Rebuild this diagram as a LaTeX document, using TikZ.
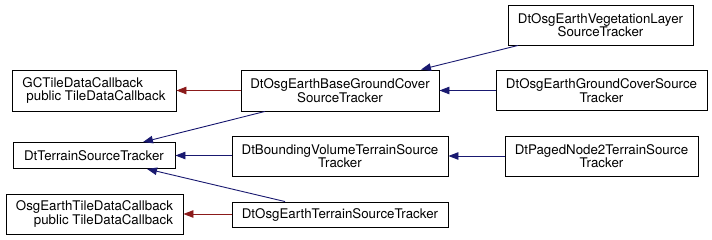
\documentclass[tikz,border=0pt]{standalone}
\usepackage{fontspec}
\setmainfont{TeX Gyre Heros}
\usetikzlibrary{arrows.meta}
\definecolor{edgeblue}{HTML}{191970}
\definecolor{edgered}{HTML}{8B1A1A}
\begin{document}
\begin{tikzpicture}[x=1pt,y=-1pt,
  cls/.style={draw=black,line width=0.9pt,inner sep=0pt,align=center,
    font=\fontsize{13.3}{13.4}\selectfont},
  pub/.style={draw=edgeblue,line width=0.9pt,{Triangle[length=10pt,width=7.5pt]}-},
  prot/.style={draw=edgered,line width=0.9pt,{Triangle[length=10pt,width=7.5pt]}-}]
  \useasboundingbox (0,0) rectangle (712,240);
  \node[cls,minimum width=164pt,minimum height=41pt,align=left] (gc) at (94,90.5)
    {GCTileDataCallback\\\hspace{4pt}public TileDataCallback};
  \node[cls,minimum width=162pt,minimum height=26pt] (dtt) at (94,155.5) {DtTerrainSourceTracker};
  \node[cls,minimum width=177pt,minimum height=40pt,align=left] (oetdc) at (94.5,214)
    {OsgEarthTileDataCallback\\\hspace{18pt}public TileDataCallback};
  \node[cls,minimum width=198pt,minimum height=41pt] (bgc) at (340,90.5)
    {DtOsgEarthBaseGroundCover\\SourceTracker};
  \node[cls,minimum width=216pt,minimum height=40pt] (bvt) at (340,156)
    {DtBoundingVolumeTerrainSource\\Tracker};
  \node[cls,minimum width=216pt,minimum height=25pt] (oet) at (340,214.5)
    {DtOsgEarthTerrainSourceTracker};
  \node[cls,minimum width=185pt,minimum height=40pt] (veg) at (600.5,25)
    {DtOsgEarthVegetationLayer\\SourceTracker};
  \node[cls,minimum width=211pt,minimum height=40pt] (gcs) at (601.5,90.5)
    {DtOsgEarthGroundCoverSource\\Tracker};
  \node[cls,minimum width=193pt,minimum height=40pt] (pn2) at (601.5,156)
    {DtPagedNode2TerrainSource\\Tracker};
  \draw[prot] (gc.east) -- (bgc.west);
  \draw[prot] (oetdc.east) -- (oetdc.east -| oet.west);
  \draw[pub] ([xshift=49pt]dtt.north) -- ([xshift=-75pt]bgc.south);
  \draw[pub] (dtt.east) -- (dtt.east -| bvt.west);
  \draw[pub] ([xshift=53pt]dtt.south) -- ([xshift=-55pt]oet.north);
  \draw[pub] ([xshift=81pt]bgc.north) -- ([xshift=-82.5pt]veg.south);
  \draw[pub] (bgc.east) -- (gcs.west);
  \draw[pub] (bvt.east) -- (pn2.west);
\end{tikzpicture}
\end{document}
